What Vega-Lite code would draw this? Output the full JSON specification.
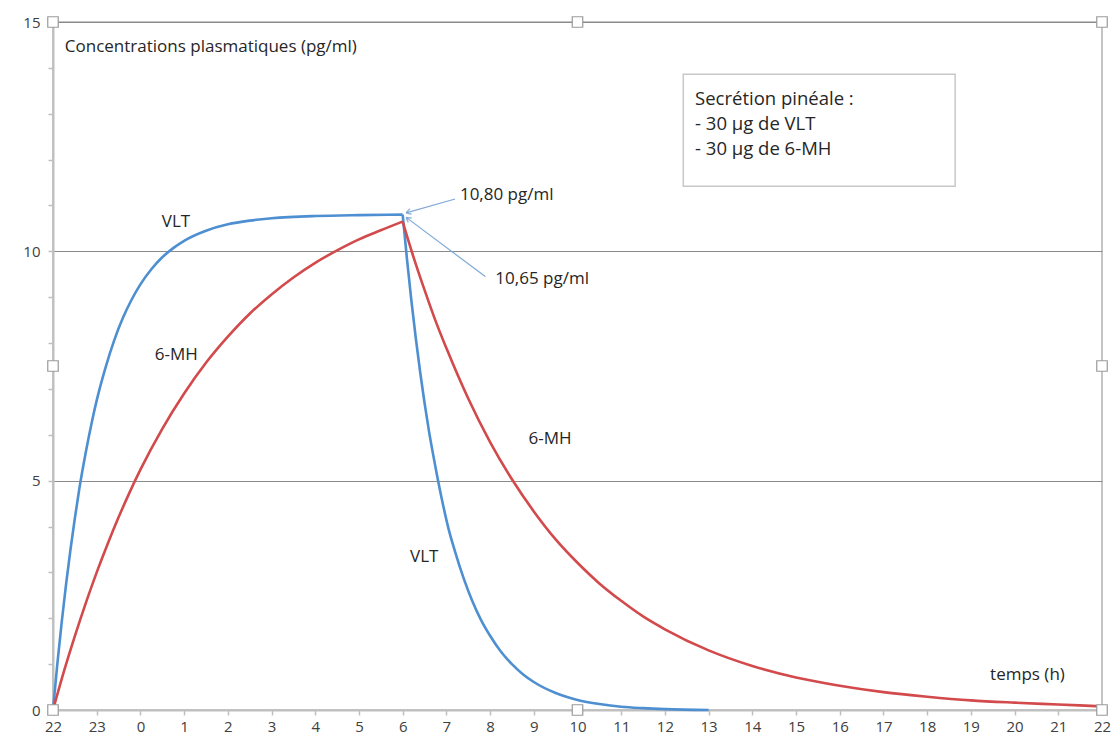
{
  "$schema": "https://vega.github.io/schema/vega-lite/v6.json",
  "width": 1049,
  "height": 688,
  "autosize": "none",
  "padding": {"left": 53, "top": 22, "right": 11, "bottom": 33},
  "background": "white",
  "config": {
    "view": {"stroke": "#c4c4c4", "strokeWidth": 2},
    "font": "Open Sans",
    "text": {"font": "Open Sans", "color": "#262626"}
  },
  "datasets": {
    "curves": [
      {"t": 0, "v": 0, "s": "VLT", "p": "rise"},
      {"t": 0.1, "v": 1.01, "s": "VLT", "p": "rise"},
      {"t": 0.2, "v": 1.92, "s": "VLT", "p": "rise"},
      {"t": 0.3, "v": 2.75, "s": "VLT", "p": "rise"},
      {"t": 0.4, "v": 3.5, "s": "VLT", "p": "rise"},
      {"t": 0.5, "v": 4.18, "s": "VLT", "p": "rise"},
      {"t": 0.6, "v": 4.81, "s": "VLT", "p": "rise"},
      {"t": 0.75, "v": 5.62, "s": "VLT", "p": "rise"},
      {"t": 0.9, "v": 6.33, "s": "VLT", "p": "rise"},
      {"t": 1.0, "v": 6.75, "s": "VLT", "p": "rise"},
      {"t": 1.2, "v": 7.46, "s": "VLT", "p": "rise"},
      {"t": 1.4, "v": 8.06, "s": "VLT", "p": "rise"},
      {"t": 1.6, "v": 8.55, "s": "VLT", "p": "rise"},
      {"t": 1.8, "v": 8.95, "s": "VLT", "p": "rise"},
      {"t": 2.0, "v": 9.28, "s": "VLT", "p": "rise"},
      {"t": 2.25, "v": 9.61, "s": "VLT", "p": "rise"},
      {"t": 2.5, "v": 9.87, "s": "VLT", "p": "rise"},
      {"t": 2.75, "v": 10.07, "s": "VLT", "p": "rise"},
      {"t": 3.0, "v": 10.23, "s": "VLT", "p": "rise"},
      {"t": 3.5, "v": 10.45, "s": "VLT", "p": "rise"},
      {"t": 4.0, "v": 10.59, "s": "VLT", "p": "rise"},
      {"t": 4.5, "v": 10.67, "s": "VLT", "p": "rise"},
      {"t": 5.0, "v": 10.72, "s": "VLT", "p": "rise"},
      {"t": 6.0, "v": 10.77, "s": "VLT", "p": "rise"},
      {"t": 7.0, "v": 10.79, "s": "VLT", "p": "rise"},
      {"t": 8, "v": 10.8, "s": "VLT", "p": "rise"},
      {"t": 8, "v": 10.8, "s": "VLT", "p": "fall"},
      {"t": 8.1, "v": 9.82, "s": "VLT", "p": "fall"},
      {"t": 8.2, "v": 8.92, "s": "VLT", "p": "fall"},
      {"t": 8.3, "v": 8.11, "s": "VLT", "p": "fall"},
      {"t": 8.4, "v": 7.37, "s": "VLT", "p": "fall"},
      {"t": 8.5, "v": 6.7, "s": "VLT", "p": "fall"},
      {"t": 8.6, "v": 6.09, "s": "VLT", "p": "fall"},
      {"t": 8.75, "v": 5.3, "s": "VLT", "p": "fall"},
      {"t": 8.9, "v": 4.58, "s": "VLT", "p": "fall"},
      {"t": 9.05, "v": 3.95, "s": "VLT", "p": "fall"},
      {"t": 9.2, "v": 3.45, "s": "VLT", "p": "fall"},
      {"t": 9.4, "v": 2.86, "s": "VLT", "p": "fall"},
      {"t": 9.6, "v": 2.36, "s": "VLT", "p": "fall"},
      {"t": 9.8, "v": 1.95, "s": "VLT", "p": "fall"},
      {"t": 10.0, "v": 1.62, "s": "VLT", "p": "fall"},
      {"t": 10.25, "v": 1.27, "s": "VLT", "p": "fall"},
      {"t": 10.5, "v": 1.0, "s": "VLT", "p": "fall"},
      {"t": 10.75, "v": 0.78, "s": "VLT", "p": "fall"},
      {"t": 11.0, "v": 0.61, "s": "VLT", "p": "fall"},
      {"t": 11.5, "v": 0.37, "s": "VLT", "p": "fall"},
      {"t": 12.0, "v": 0.22, "s": "VLT", "p": "fall"},
      {"t": 12.5, "v": 0.13, "s": "VLT", "p": "fall"},
      {"t": 13.0, "v": 0.07, "s": "VLT", "p": "fall"},
      {"t": 13.5, "v": 0.04, "s": "VLT", "p": "fall"},
      {"t": 14.0, "v": 0.02, "s": "VLT", "p": "fall"},
      {"t": 15.0, "v": 0.0, "s": "VLT", "p": "fall"},
      {"t": 0, "v": 0, "s": "6-MH", "p": "rise"},
      {"t": 0.25, "v": 0.84, "s": "6-MH", "p": "rise"},
      {"t": 0.5, "v": 1.61, "s": "6-MH", "p": "rise"},
      {"t": 0.75, "v": 2.33, "s": "6-MH", "p": "rise"},
      {"t": 1.0, "v": 3.0, "s": "6-MH", "p": "rise"},
      {"t": 1.25, "v": 3.62, "s": "6-MH", "p": "rise"},
      {"t": 1.5, "v": 4.2, "s": "6-MH", "p": "rise"},
      {"t": 1.75, "v": 4.74, "s": "6-MH", "p": "rise"},
      {"t": 2.0, "v": 5.24, "s": "6-MH", "p": "rise"},
      {"t": 2.5, "v": 6.13, "s": "6-MH", "p": "rise"},
      {"t": 3.0, "v": 6.9, "s": "6-MH", "p": "rise"},
      {"t": 3.5, "v": 7.57, "s": "6-MH", "p": "rise"},
      {"t": 4.0, "v": 8.14, "s": "6-MH", "p": "rise"},
      {"t": 4.5, "v": 8.64, "s": "6-MH", "p": "rise"},
      {"t": 5.0, "v": 9.06, "s": "6-MH", "p": "rise"},
      {"t": 5.5, "v": 9.43, "s": "6-MH", "p": "rise"},
      {"t": 6.0, "v": 9.75, "s": "6-MH", "p": "rise"},
      {"t": 6.5, "v": 10.02, "s": "6-MH", "p": "rise"},
      {"t": 7.0, "v": 10.26, "s": "6-MH", "p": "rise"},
      {"t": 7.5, "v": 10.46, "s": "6-MH", "p": "rise"},
      {"t": 8, "v": 10.65, "s": "6-MH", "p": "rise"},
      {"t": 8, "v": 10.65, "s": "6-MH", "p": "fall"},
      {"t": 8.25, "v": 9.87, "s": "6-MH", "p": "fall"},
      {"t": 8.5, "v": 9.16, "s": "6-MH", "p": "fall"},
      {"t": 8.75, "v": 8.49, "s": "6-MH", "p": "fall"},
      {"t": 9.0, "v": 7.89, "s": "6-MH", "p": "fall"},
      {"t": 9.5, "v": 6.79, "s": "6-MH", "p": "fall"},
      {"t": 10.0, "v": 5.84, "s": "6-MH", "p": "fall"},
      {"t": 10.5, "v": 5.03, "s": "6-MH", "p": "fall"},
      {"t": 11.0, "v": 4.33, "s": "6-MH", "p": "fall"},
      {"t": 11.5, "v": 3.72, "s": "6-MH", "p": "fall"},
      {"t": 12.0, "v": 3.21, "s": "6-MH", "p": "fall"},
      {"t": 12.5, "v": 2.76, "s": "6-MH", "p": "fall"},
      {"t": 13.0, "v": 2.38, "s": "6-MH", "p": "fall"},
      {"t": 13.5, "v": 2.04, "s": "6-MH", "p": "fall"},
      {"t": 14.0, "v": 1.76, "s": "6-MH", "p": "fall"},
      {"t": 15.0, "v": 1.3, "s": "6-MH", "p": "fall"},
      {"t": 16.0, "v": 0.96, "s": "6-MH", "p": "fall"},
      {"t": 17.0, "v": 0.71, "s": "6-MH", "p": "fall"},
      {"t": 18.0, "v": 0.53, "s": "6-MH", "p": "fall"},
      {"t": 19.0, "v": 0.39, "s": "6-MH", "p": "fall"},
      {"t": 20.0, "v": 0.29, "s": "6-MH", "p": "fall"},
      {"t": 21.0, "v": 0.21, "s": "6-MH", "p": "fall"},
      {"t": 22.0, "v": 0.16, "s": "6-MH", "p": "fall"},
      {"t": 23.0, "v": 0.12, "s": "6-MH", "p": "fall"},
      {"t": 24.0, "v": 0.08, "s": "6-MH", "p": "fall"}
    ],
    "arrows": [
      {"t1": 9.2, "v1": 11.14, "t2": 8.08, "v2": 10.84},
      {"t1": 9.89, "v1": 9.45, "t2": 8.08, "v2": 10.74}
    ],
    "texts": [
      {"t": 0.27, "v": 14.45, "label": "Concentrations plasmatiques (pg/ml)"},
      {"t": 2.49, "v": 10.65, "label": "VLT"},
      {"t": 2.33, "v": 7.75, "label": "6-MH"},
      {"t": 10.88, "v": 5.9, "label": "6-MH"},
      {"t": 8.17, "v": 3.34, "label": "VLT"},
      {"t": 9.31, "v": 11.22, "label": "10,80 pg/ml"},
      {"t": 10.12, "v": 9.39, "label": "10,65 pg/ml"},
      {"t": 21.44, "v": 0.76, "label": "temps (h)"}
    ],
    "box": [
      {"x1": 14.42, "x2": 20.64, "y1": 13.86, "y2": 11.42}
    ],
    "boxtext": [
      {"t": 14.69, "v": 13.32, "label": "Secrétion pinéale :"},
      {"t": 14.69, "v": 12.77, "label": "- 30 µg de VLT"},
      {"t": 14.69, "v": 12.23, "label": "- 30 µg de 6-MH"}
    ],
    "handles": [
      {"t": 0, "v": 15}, {"t": 12, "v": 15}, {"t": 24, "v": 15},
      {"t": 0, "v": 7.5}, {"t": 24, "v": 7.5},
      {"t": 0, "v": 0}, {"t": 12, "v": 0}, {"t": 24, "v": 0}
    ]
  },
  "layer": [
    {
      "data": {"name": "curves"},
      "mark": {"type": "line", "strokeWidth": 2.6, "interpolate": "monotone"},
      "encoding": {
        "x": {
          "field": "t", "type": "quantitative", "title": null,
          "scale": {"domain": [0, 24], "nice": false, "zero": false},
          "axis": {
            "values": [0,1,2,3,4,5,6,7,8,9,10,11,12,13,14,15,16,17,18,19,20,21,22,23,24],
            "labelExpr": "(datum.value + 22) % 24",
            "grid": false,
            "domainColor": "#bfbfbf", "domainWidth": 2,
            "tickColor": "#bfbfbf", "tickSize": 5, "tickWidth": 1.5,
            "labelFont": "Open Sans", "labelFontSize": 15, "labelColor": "#404040",
            "labelPadding": 4, "labelFlush": false, "labelOverlap": false
          }
        },
        "y": {
          "field": "v", "type": "quantitative", "title": null,
          "scale": {"domain": [0, 15], "nice": false},
          "axis": {
            "values": [0,1,2,3,4,5,6,7,8,9,10,11,12,13,14,15],
            "labelExpr": "datum.value % 5 === 0 ? datum.value : ''",
            "grid": true,
            "gridColor": "#8a8a8a",
            "gridWidth": 1.2,
            "gridOpacity": {"condition": {"test": "datum.value % 5 === 0 && datum.value > 0", "value": 1}, "value": 0},
            "domainColor": "#bfbfbf", "domainWidth": 2,
            "tickColor": "#bfbfbf", "tickSize": 5, "tickWidth": 1.5,
            "labelFont": "Open Sans", "labelFontSize": 15, "labelColor": "#404040",
            "labelPadding": 8, "labelFlush": false, "labelOverlap": false
          }
        },
        "color": {
          "field": "s", "type": "nominal", "legend": null,
          "scale": {"domain": ["VLT", "6-MH"], "range": ["#4d8fd0", "#d24a4b"]}
        },
        "detail": {"field": "p"}
      }
    },
    {
      "data": {"name": "arrows"},
      "mark": {"type": "rule", "color": "#7fa9d8", "strokeWidth": 1.2},
      "encoding": {
        "x": {"field": "t1", "type": "quantitative", "title": null},
        "y": {"field": "v1", "type": "quantitative", "title": null},
        "x2": {"field": "t2"},
        "y2": {"field": "v2"}
      }
    },
    {
      "data": {"values": [{"t": 8.08, "v": 10.84}]},
      "mark": {"type": "point", "shape": "M0,0L1,-0.6M0,0L1,0.6", "size": 90, "filled": false, "color": "#6a9bd2", "strokeWidth": 1.5, "angle": 344},
      "encoding": {
        "x": {"field": "t", "type": "quantitative", "title": null},
        "y": {"field": "v", "type": "quantitative", "title": null}
      }
    },
    {
      "data": {"values": [{"t": 8.08, "v": 10.74}]},
      "mark": {"type": "point", "shape": "M0,0L1,-0.6M0,0L1,0.6", "size": 90, "filled": false, "color": "#6a9bd2", "strokeWidth": 1.5, "angle": 37},
      "encoding": {
        "x": {"field": "t", "type": "quantitative", "title": null},
        "y": {"field": "v", "type": "quantitative", "title": null}
      }
    },
    {
      "data": {"name": "box"},
      "mark": {"type": "rect", "fill": "white", "stroke": "#c8c8c8", "strokeWidth": 1.5},
      "encoding": {
        "x": {"field": "x1", "type": "quantitative", "title": null},
        "x2": {"field": "x2"},
        "y": {"field": "y1", "type": "quantitative", "title": null},
        "y2": {"field": "y2"}
      }
    },
    {
      "data": {"name": "boxtext"},
      "mark": {"type": "text", "align": "left", "baseline": "middle", "fontSize": 18.5, "font": "Open Sans", "color": "#262626"},
      "encoding": {
        "x": {"field": "t", "type": "quantitative", "title": null},
        "y": {"field": "v", "type": "quantitative", "title": null},
        "text": {"field": "label"}
      }
    },
    {
      "data": {"name": "texts"},
      "mark": {"type": "text", "align": "left", "baseline": "middle", "fontSize": 17, "font": "Open Sans", "color": "#262626"},
      "encoding": {
        "x": {"field": "t", "type": "quantitative", "title": null},
        "y": {"field": "v", "type": "quantitative", "title": null},
        "text": {"field": "label"}
      }
    },
    {
      "data": {"name": "handles"},
      "mark": {"type": "point", "shape": "square", "size": 110, "filled": true, "fill": "white", "stroke": "#9a9a9a", "strokeWidth": 1.2, "opacity": 1, "clip": false},
      "encoding": {
        "x": {"field": "t", "type": "quantitative", "title": null},
        "y": {"field": "v", "type": "quantitative", "title": null}
      }
    }
  ]
}
